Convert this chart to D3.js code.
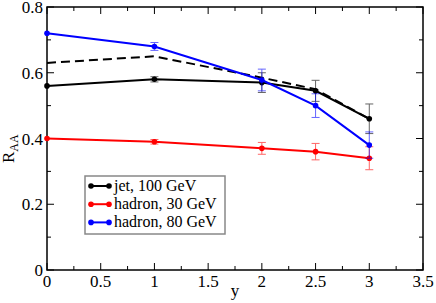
<!DOCTYPE html>
<html><head><meta charset="utf-8">
<script src="https://cdn.jsdelivr.net/npm/d3@7"></script>
<style>body{margin:0;background:#fff}svg{display:block}svg text{font-family:"Liberation Serif",serif !important}</style>
</head><body><svg id="c" width="436" height="303"></svg>
<script>
const xs = [0, 1, 2, 2.5, 3];
const jet = [0.56, 0.58, 0.57, 0.545, 0.46];
const jetErr = [0, 0.008, 0.03, 0.032, 0.045];
const jetDashed = [0.63, 0.65, 0.585, 0.55, 0.46];
const had30 = [0.40, 0.39, 0.37, 0.36, 0.34];
const had30Err = [0, 0.007, 0.018, 0.025, 0.035];
const had80 = [0.72, 0.68, 0.578, 0.50, 0.38];
const had80Err = [0, 0.012, 0.033, 0.036, 0.04];
const xTicks = [0, 0.5, 1, 1.5, 2, 2.5, 3, 3.5];
const yTicks = [0, 0.2, 0.4, 0.6, 0.8];
const legendLabels = ["jet, 100 GeV", "hadron, 30 GeV", "hadron, 80 GeV"];
const colors = ["#000000", "#ff0000", "#0000ff"];
const FONT = '"Liberation Serif", "DejaVu Serif", serif';

const svg = d3.select("#c");
const L = 47, R = 423, T = 7, B = 270;
const x = d3.scaleLinear().domain([0, 3.5]).range([L, R]);
const y = d3.scaleLinear().domain([0, 0.8]).range([B, T]);

const xMinor = d3.range(0, 3.51, 0.25);
const yMinor = d3.range(0, 0.801, 0.1);
const g = svg.append("g").attr("stroke", "#000").attr("stroke-width", 1);
xMinor.forEach(v => {
  const major = Math.abs(v*2 - Math.round(v*2)) < 1e-6;
  const len = major ? 7 : 4;
  g.append("line").attr("x1", x(v)).attr("x2", x(v)).attr("y1", B).attr("y2", B - len);
  g.append("line").attr("x1", x(v)).attr("x2", x(v)).attr("y1", T).attr("y2", T + len);
});
yMinor.forEach(v => {
  const major = Math.abs(v*5 - Math.round(v*5)) < 1e-6;
  const len = major ? 7 : 4;
  g.append("line").attr("y1", y(v)).attr("y2", y(v)).attr("x1", L).attr("x2", L + len);
  g.append("line").attr("y1", y(v)).attr("y2", y(v)).attr("x1", R).attr("x2", R - len);
});
svg.append("rect").attr("x", L).attr("y", T).attr("width", R - L).attr("height", B - T)
  .attr("fill", "none").attr("stroke", "#000").attr("stroke-width", 1.5);

svg.append("g").selectAll("text").data(xTicks).join("text")
  .attr("x", d => x(d)).attr("y", B + 17).attr("text-anchor", "middle")
  .attr("font-size", 17).style("font-family", FONT).text(d => d);
svg.append("g").selectAll("text").data(yTicks).join("text")
  .attr("x", L - 4).attr("y", d => y(d) + 6).attr("text-anchor", "end")
  .attr("font-size", 17).style("font-family", FONT).text(d => d === 0 ? "0" : d.toFixed(1));

svg.append("text").attr("x", (L + R) / 2).attr("y", 296).attr("text-anchor", "middle")
  .attr("font-size", 17).style("font-family", FONT).text("y");
const yl = svg.append("text").attr("transform", "translate(14,163) rotate(-90)")
  .attr("text-anchor", "start").attr("font-size", 17).style("font-family", FONT);
yl.append("tspan").text("R");
yl.append("tspan").attr("font-size", 12).attr("dy", 4).text("AA");

const line = d3.line().x(d => x(d[0])).y(d => y(d[1]));
function series(vals, errs, color) {
  const pts = xs.map((v, i) => [v, vals[i]]);
  const eg = svg.append("g").attr("stroke", color).attr("stroke-width", 1).attr("opacity", 0.6);
  pts.forEach((p, i) => {
    if (!errs[i]) return;
    const cx = x(p[0]), y1 = y(p[1] + errs[i]), y2 = y(p[1] - errs[i]);
    eg.append("line").attr("x1", cx).attr("x2", cx).attr("y1", y1).attr("y2", y2);
    eg.append("line").attr("x1", cx - 4).attr("x2", cx + 4).attr("y1", y1).attr("y2", y1);
    eg.append("line").attr("x1", cx - 4).attr("x2", cx + 4).attr("y1", y2).attr("y2", y2);
  });
  svg.append("path").attr("d", line(pts)).attr("fill", "none").attr("stroke", color).attr("stroke-width", 2);
  svg.append("g").selectAll("circle").data(pts).join("circle")
    .attr("cx", d => x(d[0])).attr("cy", d => y(d[1])).attr("r", 2.8).attr("fill", color);
}
svg.append("path").attr("d", line(xs.map((v, i) => [v, jetDashed[i]])))
  .attr("fill", "none").attr("stroke", "#000").attr("stroke-width", 2).attr("stroke-dasharray", "9,5");
series(jet, jetErr, colors[0]);
series(had30, had30Err, colors[1]);
series(had80, had80Err, colors[2]);

const lg = svg.append("g");
lg.append("rect").attr("x", 85).attr("y", 176).attr("width", 140).attr("height", 58)
  .attr("fill", "#fff").attr("stroke", "#888").attr("stroke-width", 1.5);
legendLabels.forEach((t, i) => {
  const yy = 186 + i * 18.2;
  lg.append("line").attr("x1", 91).attr("x2", 109).attr("y1", yy).attr("y2", yy)
    .attr("stroke", colors[i]).attr("stroke-width", 2);
  [91, 109].forEach(cx => lg.append("circle").attr("cx", cx).attr("cy", yy).attr("r", 2.8).attr("fill", colors[i]));
  lg.append("text").attr("x", 114).attr("y", yy + 5).attr("font-size", 16).style("font-family", FONT).text(t);
});
</script></body></html>
